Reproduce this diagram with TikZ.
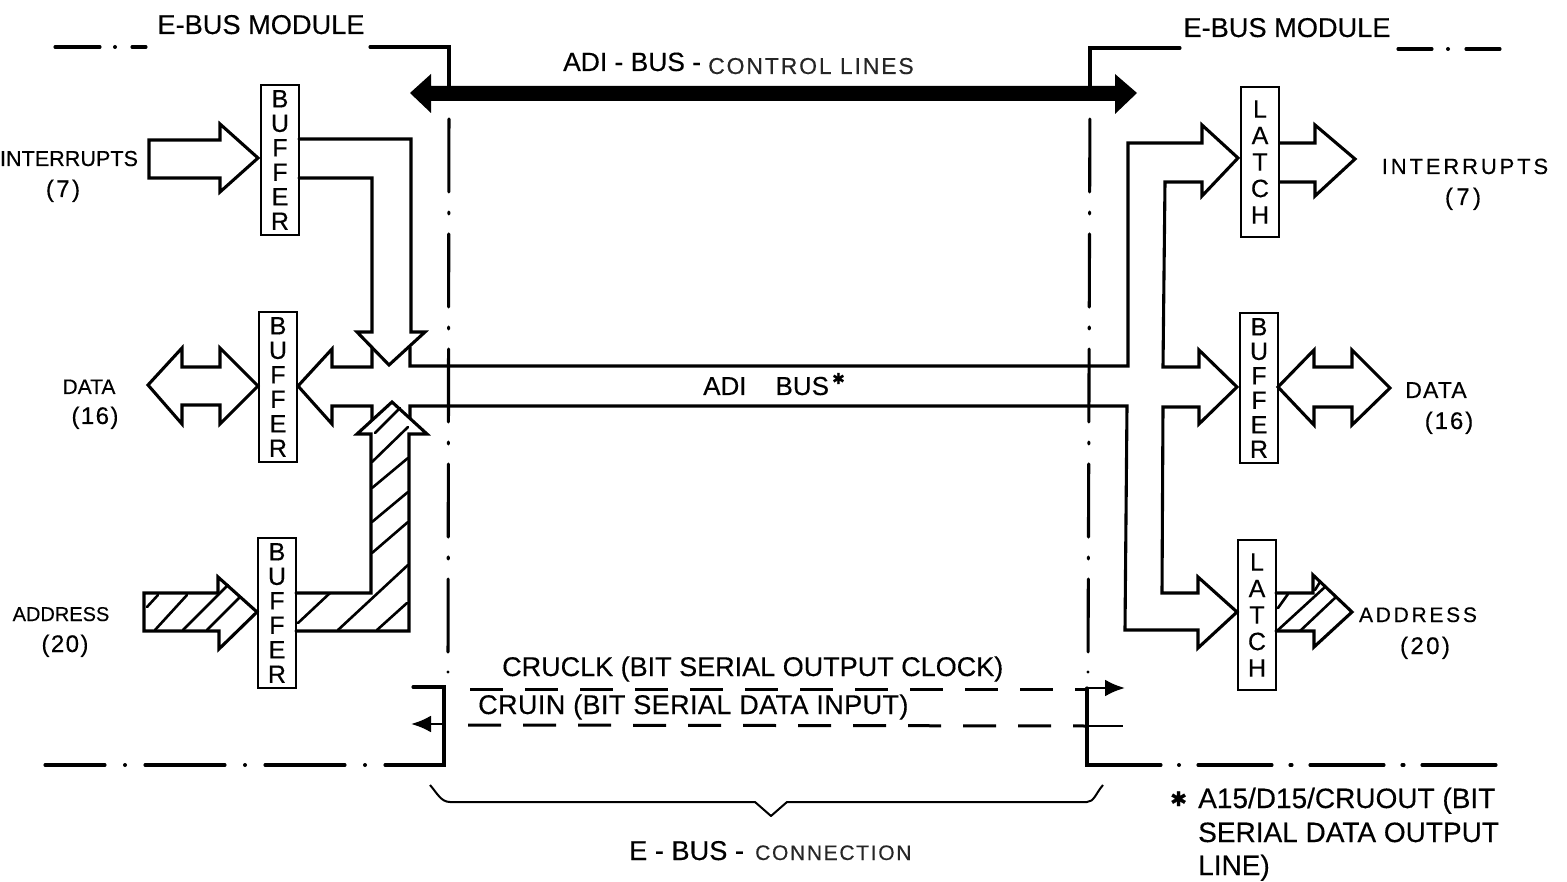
\documentclass[tikz,border=0pt]{standalone}
\usepackage{fontspec}
\setmainfont[FakeBold=0.35]{Liberation Sans}
\newfontfamily\symfont{DejaVu Sans}
\newcommand{\fs}[1]{\fontsize{#1}{#1}\selectfont}
\newcommand{\ls}[1]{\addfontfeature{LetterSpace=#1}}
\usetikzlibrary{arrows.meta}
\tikzset{
  ln/.style={line width=3.1pt,line join=miter,line cap=round,black},
  hat/.style={line width=2.6pt,line cap=round,black},
  blockbox/.style={draw,line width=2.8pt,minimum width=38pt,inner sep=0pt,align=center,font={\fontsize{25}{24.5}\selectfont}},
  latchbox/.style={draw,line width=2.8pt,minimum width=38pt,inner sep=0pt,align=center,font={\fontsize{25}{26.5}\selectfont}},
  txt/.style={anchor=base,inner sep=0pt},
  txl/.style={anchor=base west,inner sep=0pt},
  chain/.style={line width=3.1pt,dash pattern=on 2pt off 20pt on 73pt off 20pt,line cap=round},
  dotline/.style={line width=3.1pt,dash pattern=on 74pt off 18pt on 2pt off 18pt,line cap=round},
  crudash/.style={line width=3pt,dash pattern=on 33pt off 22pt},
  tip/.style={-{Latex[length=20pt,width=17pt]}},
}
\begin{document}
\begin{tikzpicture}[x=1pt,y=-1pt]
\useasboundingbox (0,0) rectangle (1567,882);
\fill[white] (0,0) rectangle (1567,882);
% module outlines
\draw[ln] (370,47) -- (449,47) -- (449,88);
\draw[ln] (55,47) -- (100,47); \fill (115,47) circle (2pt); \draw[ln] (132,47) -- (146,47);
\draw[ln] (1180,48) -- (1090,48) -- (1090,88);
\draw[ln] (1398,49) -- (1432,49); \fill (1448,49) circle (2pt); \draw[ln] (1466,49) -- (1500,49);
\draw[chain] (449,97) -- (448,672);
\draw[chain] (1090,97) -- (1088,672);
\draw[ln] (1161,765) -- (1087,765) -- (1087,688);
\draw[dotline] (1198,765) -- (1500,765);
\fill (1179,765) circle (2pt);
\draw[ln] (45,765) -- (105,765); \fill (125,765) circle (2pt);
\draw[ln] (145,765) -- (225,765); \fill (245,765) circle (2pt);
\draw[ln] (265,765) -- (345,765); \fill (365,765) circle (2pt);
\draw[ln] (385,765) -- (444,765) -- (444,687) -- (413,687);
% control-lines bus
\coordinate (ctlL) at (410,93); \coordinate (ctlR) at (1137,93);
\fill (ctlL) -- (431,74) -- (431,86) -- (1115,86) -- (1115,74) -- (ctlR) -- (1115,114) -- (1115,101) -- (431,101) -- (431,113) -- cycle;
% boxes
\node[blockbox,minimum height=150pt] (bufI) at (280,160) {B\\U\\F\\F\\E\\R};
\node[blockbox,minimum height=150pt] (bufD) at (278,387) {B\\U\\F\\F\\E\\R};
\node[blockbox,minimum height=150pt] (bufA) at (277,613) {B\\U\\F\\F\\E\\R};
\node[latchbox,minimum height=150pt] (latI) at (1260,162) {L\\A\\T\\C\\H};
\node[blockbox,minimum height=150pt] (bufR) at (1259,388) {B\\U\\F\\F\\E\\R};
\node[latchbox,minimum height=150pt] (latA) at (1257,615) {L\\A\\T\\C\\H};
% left interrupt arrow
\draw[ln] (149,140) -- (220,140) -- (220,124) -- (258,158) -- (220,192) -- (220,178) -- (149,178) -- cycle;
\draw[ln] (299,139) -- (411,139) -- (411,332) -- (425,332) -- (389,365) -- (357,332) -- (372,332) -- (372,178) -- (299,178);
% left data arrow
\draw[ln] (148,385) -- (182,348) -- (182,367) -- (220,367) -- (220,348) -- (258,386) -- (220,424) -- (220,405) -- (182,405) -- (182,424) -- cycle;
% ADI bus, right side
\draw[ln] (372,347) -- (372,367) -- (332,367) -- (332,349) -- (298,386) -- (332,424) -- (332,406) -- (372,406) -- (372,420);
\draw[ln] (410,347) -- (410,366) -- (1128,366) -- (1128,143) -- (1202,143) -- (1202,125) -- (1238,158) -- (1202,196) -- (1202,182) -- (1165,182) -- (1163,367) -- (1199,367) -- (1199,350) -- (1237,387) -- (1199,424) -- (1199,407) -- (1163,407) -- (1162,593) -- (1198,593) -- (1198,577) -- (1237,612) -- (1198,648) -- (1198,630) -- (1125,630) -- (1127,406) -- (410,406) -- (410,418);
% right outputs
\draw[ln] (1280,143) -- (1315,143) -- (1315,125) -- (1355,159) -- (1315,196) -- (1315,182) -- (1280,182);
\draw[ln] (1278,387) -- (1314,350) -- (1314,367) -- (1352,367) -- (1352,350) -- (1390,388) -- (1352,425) -- (1352,407) -- (1314,407) -- (1314,425) -- cycle;
\draw[ln] (1276,593) -- (1313,593) -- (1313,575) -- (1352,612) -- (1314,647) -- (1314,631) -- (1276,631);
\draw[hat] (1278,608) -- (1288,594);
\draw[hat] (1278,630) -- (1325,587);
\draw[hat] (1300,631) -- (1336,597);
\draw[hat] (1315,590) -- (1320,582);
% address hatch left
\draw[ln] (218,593) -- (144,593) -- (144,631) -- (219,631) -- (219,649) -- (257,612) -- (218,577) -- cycle;
\draw[ln] (296,593) -- (371,593) -- (371,434) -- (357,434) -- (392,402) -- (427,434) -- (409,434) -- (409,631) -- (296,631);
\draw[hat] (147,607) -- (158,595);
\draw[hat] (155,630) -- (187,595);
\draw[hat] (183,630) -- (228,585);
\draw[hat] (207,630) -- (240,597);
\draw[hat] (298,623) -- (330,593);
\draw[hat] (338,630) -- (408,565);
\draw[hat] (377,630) -- (407,603);
\draw[hat] (372,553) -- (408,522);
\draw[hat] (372,522) -- (408,492);
\draw[hat] (372,488) -- (408,458);
\draw[hat] (372,462) -- (408,427);
\draw[hat] (375,433) -- (400,408);
% CRU lines
\coordinate (clkA) at (470,689); \coordinate (clkB) at (1087,689);
\coordinate (clkC) at (1087,688); \coordinate (clkD) at (1125,688);
\coordinate (inA) at (468,725); \coordinate (inB) at (1085,726);
\coordinate (inC) at (1087,726); \coordinate (inD) at (1123,726);
\coordinate (inE) at (444,724); \coordinate (inF) at (411,724);
\draw[crudash] (clkA) -- (clkB);
\draw[crudash] (inA) -- (inB);
\draw[line width=2.8pt,tip] (clkC) -- (clkD);
\draw[line width=2.8pt] (inC) -- (inD);
\draw[line width=2.8pt,tip] (inE) -- (inF);
% brace
\draw[line width=2pt,line join=round] (430,785) .. controls (437,793) and (441,802) .. (450,802) -- (755,802) -- (771,816) -- (787,802) -- (1087,802) .. controls (1094,802) and (1096,793) .. (1103,785);
% texts
\node[txt,font=\fs{27.2}] (t1) at (261,34) {E-BUS MODULE};
\node[txt,font=\fs{27.2}] (t2) at (1287,37) {E-BUS MODULE};
\node[txl,font=\fs{26.4}] (t3) at (563,71) {ADI - BUS -};
\node[txl,font={\fs{23}\ls{8}},text=black!85] (t4) at (708,74) {CONTROL LINES};
\node[txt,font=\fs{21.6}] (t5) at (69,166) {INTERRUPTS};
\node[txt,font={\fs{24}\ls{10}}] (t6) at (63,197) {(7)};
\node[txt,font=\fs{21}] (t7) at (89,394) {DATA};
\node[txt,font={\fs{24}\ls{6}}] (t8) at (95,424) {(16)};
\node[txt,font=\fs{20}] (t9) at (61,621) {ADDRESS};
\node[txt,font={\fs{24}\ls{6}}] (t10) at (65,652) {(20)};
\node[txt,font={\fs{22}\ls{13}}] (t11) at (1465,174) {INTERRUPTS};
\node[txt,font={\fs{24}\ls{14}}] (t12) at (1463,205) {(7)};
\node[txt,font={\fs{23}\ls{5}}] (t13) at (1436,398) {DATA};
\node[txt,font={\fs{24}\ls{8}}] (t14) at (1449,429) {(16)};
\node[txt,font={\fs{21}\ls{13}}] (t15) at (1418,622) {ADDRESS};
\node[txt,font={\fs{24}\ls{10}}] (t16) at (1425,654) {(20)};
\node[txl,font=\fs{26}] (t17) at (703,395) {ADI\hspace{29pt}BUS};
\node[txl,font=\fs{15}] (t18) at (832,384) {\symfont\addfontfeature{FakeBold=1}✱};
\node[txl,font=\fs{27}] (t19) at (502,676) {CRUCLK (BIT SERIAL OUTPUT CLOCK)};
\node[txl,font={\fs{27}\ls{1.5}}] (t20) at (478,714) {CRUIN (BIT SERIAL DATA INPUT)};
\node[txl,font=\fs{27.2}] (t21) at (629,860) {E - BUS -};
\node[txl,font={\fs{21}\ls{8}},text=black!85] (t22) at (755,860) {CONNECTION};
\node[txl,font=\fs{20}] (t23) at (1170,806) {\symfont\addfontfeature{FakeBold=1}✱};
\node[txl,font=\fs{28}] (t24) at (1198,808) {A15/D15/CRUOUT (BIT};
\node[txl,font=\fs{28}] (t25) at (1198,842) {SERIAL DATA OUTPUT};
\node[txl,font=\fs{28}] (t26) at (1198,875) {LINE)};
\end{tikzpicture}
\end{document}
